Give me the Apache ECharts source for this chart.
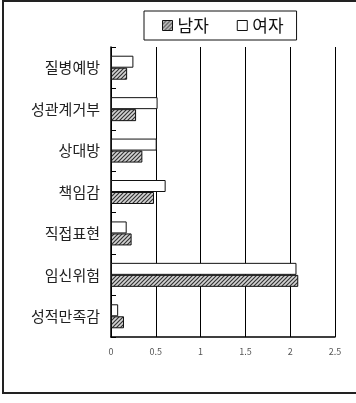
<!DOCTYPE html>
<html>
<head>
<meta charset="utf-8">
<script src="https://cdn.jsdelivr.net/npm/echarts@6/dist/echarts.min.js"></script>
<style>
  html, body { margin: 0; padding: 0; background: #fff; }
  #chart { width: 356px; height: 403px; }
</style>
</head>
<body>
<div id="chart"></div>
<script>
// Categories listed bottom to top (value axis runs upward)
const categories = ['성적만족감', '임신위험', '직접표현', '책임감', '상대방', '성관계거부', '질병예방'];
const maleValues = [0.145, 2.09, 0.23, 0.48, 0.35, 0.28, 0.18];
const femaleValues = [0.08, 2.07, 0.175, 0.61, 0.51, 0.52, 0.25];
const xTicks = { min: 0, max: 2.5, interval: 0.5 };

// Diagonal hatch fill for the 남자 bars
function makeHatch() {
  const c = document.createElement('canvas');
  c.width = 4; c.height = 4;
  const g = c.getContext('2d');
  g.fillStyle = '#d4d4d4';
  g.fillRect(0, 0, 4, 4);
  g.strokeStyle = '#333';
  g.lineWidth = 1.2;
  g.beginPath();
  g.moveTo(-1, 5); g.lineTo(5, -1);
  g.moveTo(-1, 1); g.lineTo(1, -1);
  g.moveTo(3, 5); g.lineTo(5, 3);
  g.stroke();
  return c;
}
const hatch = { image: makeHatch(), repeat: 'repeat' };

const chart = echarts.init(document.getElementById('chart'), null, { renderer: 'canvas' });
const font = '"Noto Sans CJK KR", "Noto Sans", sans-serif';

chart.setOption({
  animation: false,
  backgroundColor: '#fff',
  textStyle: { fontFamily: font },
  graphic: [{
    type: 'rect',
    shape: { x: 3, y: 1, width: 370, height: 392 },
    style: { fill: 'none', stroke: '#222', lineWidth: 2 },
    silent: true
  }],
  legend: {
    left: 144, top: 11,
    orient: 'horizontal',
    padding: [6, 13, 6, 18],
    borderColor: '#111', borderWidth: 1,
    itemWidth: 10, itemHeight: 10, itemGap: 28,
    icon: 'rect',
    textStyle: { fontSize: 17, lineHeight: 17, color: '#111', fontFamily: font },
    data: [
      { name: '남자', itemStyle: { color: hatch, borderColor: '#111', borderWidth: 1 } },
      { name: '여자', itemStyle: { color: '#fff', borderColor: '#111', borderWidth: 1 } }
    ]
  },
  grid: { left: 111, right: 21, top: 47, bottom: 66, containLabel: false },
  xAxis: {
    type: 'value',
    min: xTicks.min, max: xTicks.max, interval: xTicks.interval,
    axisLine: { show: true, lineStyle: { color: '#000', width: 1.5 } },
    axisTick: { show: false },
    axisLabel: { fontSize: 9, color: '#555', margin: 10, fontFamily: font },
    splitLine: { show: true, lineStyle: { color: '#000', width: 1 } }
  },
  yAxis: {
    type: 'category',
    data: categories,
    axisLine: { show: true, lineStyle: { color: '#000', width: 1.5 } },
    axisTick: { show: true, inside: true, length: 5, lineStyle: { color: '#000' } },
    axisLabel: { fontSize: 15, color: '#222', margin: 11, fontFamily: font },
    splitLine: { show: false }
  },
  series: [
    {
      name: '여자', type: 'bar', data: femaleValues,
      barWidth: 12, barGap: '0%',
      itemStyle: { color: '#fff', borderColor: '#111', borderWidth: 1 }
    },
    {
      name: '남자', type: 'bar', data: maleValues,
      barWidth: 12, barGap: '0%',
      itemStyle: { color: hatch, borderColor: '#111', borderWidth: 1 }
    }
  ]
});
</script>
</body>
</html>
